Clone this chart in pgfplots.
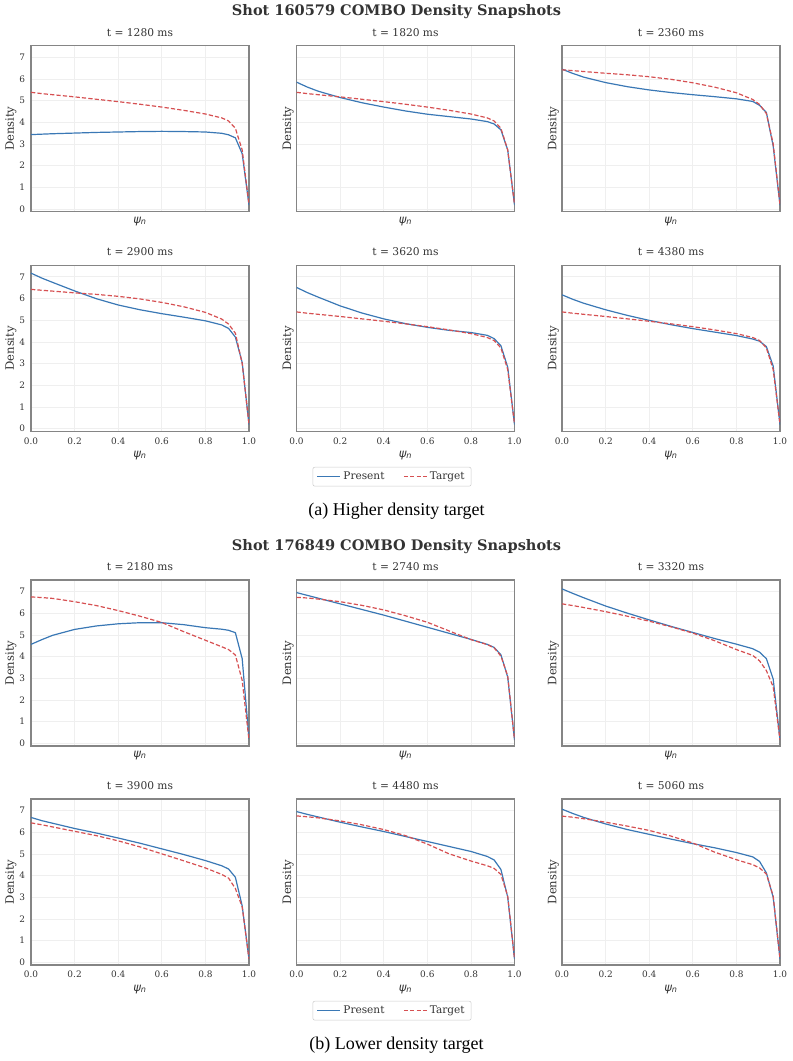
\documentclass[border=0pt]{standalone}
\usepackage{pgfplots}
\pgfplotsset{compat=1.18}
\usepackage{pgfplotstable}
\usepackage{fontspec}
\setmainfont{DejaVu Serif}
\newfontfamily\capfont{Liberation Serif}
\newfontfamily\dvsans{DejaVu Sans}
\definecolor{pblue}{HTML}{3A78B5}
\definecolor{tred}{HTML}{D65052}
\definecolor{framegray}{HTML}{858585}
\definecolor{txt}{HTML}{333333}
\definecolor{gridc}{HTML}{EFEFEF}

\pgfplotstableread{
x       p1280 p1820 p2360 p2900 p3620 p4380 tlo  thi
0       3.43  5.85  6.45  7.17  6.51  6.17  5.38 6.42
0.05    3.45  5.62  6.25  6.94  6.27  5.96  5.32 6.38
0.1     3.47  5.43  6.08  6.74  6.06  5.78  5.27 6.34
0.2     3.50  5.14  5.83  6.35  5.66  5.48  5.17 6.26
0.3     3.53  4.90  5.64  5.99  5.33  5.22  5.06 6.19
0.4     3.55  4.70  5.49  5.70  5.06  4.99  4.95 6.10
0.5     3.57  4.52  5.37  5.48  4.84  4.79  4.83 5.98
0.6     3.58  4.37  5.27  5.30  4.67  4.61  4.70 5.82
0.7     3.57  4.26  5.18  5.14  4.53  4.45  4.55 5.62
0.8     3.55  4.15  5.08  4.97  4.43  4.29  4.38 5.36
0.875   3.49  4.03  4.96  4.78  4.30  4.13  4.20 5.05
0.90625 3.42  3.92  4.78  4.62  4.15  4.03  4.06 4.82
0.9375  3.28  3.65  4.45  4.22  3.82  3.78  3.72 4.40
0.96875 2.55  2.72  2.90  3.05  2.83  2.88  2.72 3.00
1.0     0.18  0.18  0.18  0.18  0.18  0.18  0.20 0.20
}\tabA

\pgfplotstableread{
x       p2180 t2180 p2740 t2740 p3320 t3320 p3900 t3900 p4480 t4480 p5060 t5060
0       4.56  6.75  6.95  6.73  7.12  6.43  6.68  6.43  6.95  6.75  7.06  6.74
0.05    4.78  6.72  6.82  6.70  6.91  6.35  6.53  6.34  6.82  6.71  6.86  6.69
0.1     4.98  6.68  6.69  6.65  6.71  6.26  6.41  6.24  6.70  6.66  6.68  6.62
0.2     5.25  6.53  6.43  6.53  6.33  6.07  6.17  6.04  6.46  6.52  6.38  6.46
0.3     5.41  6.35  6.17  6.36  6.00  5.86  5.96  5.84  6.24  6.34  6.12  6.28
0.4     5.51  6.12  5.91  6.15  5.69  5.63  5.73  5.60  6.03  6.12  5.90  6.08
0.5     5.56  5.86  5.63  5.88  5.39  5.37  5.49  5.32  5.80  5.84  5.68  5.82
0.6     5.56  5.57  5.35  5.58  5.11  5.08  5.23  5.00  5.57  5.45  5.47  5.50
0.7     5.47  5.15  5.07  5.18  4.83  4.73  4.97  4.68  5.34  5.00  5.28  5.08
0.8     5.33  4.75  4.79  4.78  4.57  4.32  4.69  4.35  5.11  4.67  5.06  4.73
0.875   5.26  4.45  4.56  4.55  4.36  4.05  4.45  4.05  4.88  4.45  4.86  4.50
0.90625 5.21  4.32  4.42  4.40  4.20  3.80  4.30  3.88  4.72  4.33  4.65  4.35
0.9375  5.10  4.07  4.08  4.02  3.90  3.35  3.92  3.40  4.28  4.05  4.12  4.07
0.96875 3.90  2.90  3.05  3.10  2.96  2.60  2.60  2.55  3.00  3.05  3.00  3.05
1.0     0.20  0.15  0.15  0.15  0.15  0.15  0.15  0.15  0.15  0.15  0.15  0.15
}\tabB

\pgfplotsset{
  panel/.style={
    scale only axis, width=163.5pt, height=124.5pt,
    anchor=north west,
    xmin=0, xmax=1, ymin=-0.13, ymax=7.53,
    xtick={0,0.2,0.4,0.6,0.8,1.0}, ytick={0,1,2,3,4,5,6,7},
    xticklabels={0.0,0.2,0.4,0.6,0.8,1.0},
    yticklabels={0,1,2,3,4,5,6,7},
    grid=major, major grid style={draw=gridc, line width=0.5pt},
    axis line style={draw=framegray, line width=0.95pt},
    major tick length=0pt,
    tick label style={font=\fontsize{6.7}{8}\selectfont, text=txt},
    xticklabel style={yshift=-1pt},
    yticklabel style={xshift=-1pt},
    label style={font=\fontsize{8.7}{10}\selectfont, text=txt},
    title style={font=\fontsize{8}{9.6}\selectfont, text=txt, yshift=-2.5pt},
    xlabel={{\dvsans\itshape ψ\textsubscript{n}}},
    ylabel={Density},
    xlabel style={at={(axis description cs:0.5,-0.146)}, anchor=center},
    ylabel style={at={(axis description cs:-0.092,0.5)}, anchor=center},
    legend style={font=\fontsize{7.9}{9}\selectfont, text=txt, draw=black!20,
      rounded corners=1.5pt, legend columns=2, anchor=center,
      /tikz/every even column/.append style={column sep=12pt},
      inner xsep=3pt, inner ysep=1.5pt},
    legend cell align=left,
  },
  noxt/.style={xticklabels={}, xlabel style={at={(axis description cs:0.5,-0.056)}, anchor=center}},
  noyt/.style={yticklabels={}, ylabel style={at={(axis description cs:-0.039,0.5)}, anchor=center}},
  present/.style={color=pblue, line width=0.9pt, line join=round},
  target/.style={color=tred, line width=0.9pt, dash pattern=on 3.2pt off 1.6pt, line join=round},
}

\newcommand{\panel}[7]{%
\begin{axis}[panel, at={(#1)}, title={#4}, #3]
\addplot[present] table[x=x,y=#6]{#5};
\addplot[target] table[x=x,y=#7]{#5};
\end{axis}}

\begin{document}
\begin{tikzpicture}
\useasboundingbox (0,0) rectangle (594.75pt,-795.75pt);
% group (a)
\node[font=\fontsize{10.9}{12}\selectfont\bfseries, text=txt] at (297.4pt,-9pt) {Shot 160579 COMBO Density Snapshots};
\panel{23.25pt,-34.3pt}{}{noxt}{t = 1280 ms}{\tabA}{p1280}{tlo}
\panel{222.4pt,-34.3pt}{}{noxt,noyt}{t = 1820 ms}{\tabA}{p1820}{tlo}
\panel{421.5pt,-34.3pt}{}{noxt,noyt}{t = 2360 ms}{\tabA}{p2360}{thi}
\panel{23.25pt,-199pt}{}{}{t = 2900 ms}{\tabA}{p2900}{thi}
\panel{222.4pt,-199pt}{}{noyt,legend entries={Present,Target},legend style={at={(0.438,-0.273)}}}{t = 3620 ms}{\tabA}{p3620}{tlo}
\panel{421.5pt,-199pt}{}{noyt}{t = 4380 ms}{\tabA}{p4380}{tlo}
\node[font=\capfont\fontsize{13.5}{15}\selectfont] at (297.4pt,-383.25pt) {(a) Higher density target};
% group (b)
\node[font=\fontsize{10.9}{12}\selectfont\bfseries, text=txt] at (297.4pt,-410.25pt) {Shot 176849 COMBO Density Snapshots};
\panel{23.25pt,-435pt}{}{noxt}{t = 2180 ms}{\tabB}{p2180}{t2180}
\panel{222.4pt,-435pt}{}{noxt,noyt}{t = 2740 ms}{\tabB}{p2740}{t2740}
\panel{421.5pt,-435pt}{}{noxt,noyt}{t = 3320 ms}{\tabB}{p3320}{t3320}
\panel{23.25pt,-599.25pt}{}{}{t = 3900 ms}{\tabB}{p3900}{t3900}
\panel{222.4pt,-599.25pt}{}{noyt,legend entries={Present,Target},legend style={at={(0.438,-0.275)}}}{t = 4480 ms}{\tabB}{p4480}{t4480}
\panel{421.5pt,-599.25pt}{}{noyt}{t = 5060 ms}{\tabB}{p5060}{t5060}
\node[font=\capfont\fontsize{13.5}{15}\selectfont] at (297.4pt,-783.75pt) {(b) Lower density target};
\end{tikzpicture}
\end{document}
